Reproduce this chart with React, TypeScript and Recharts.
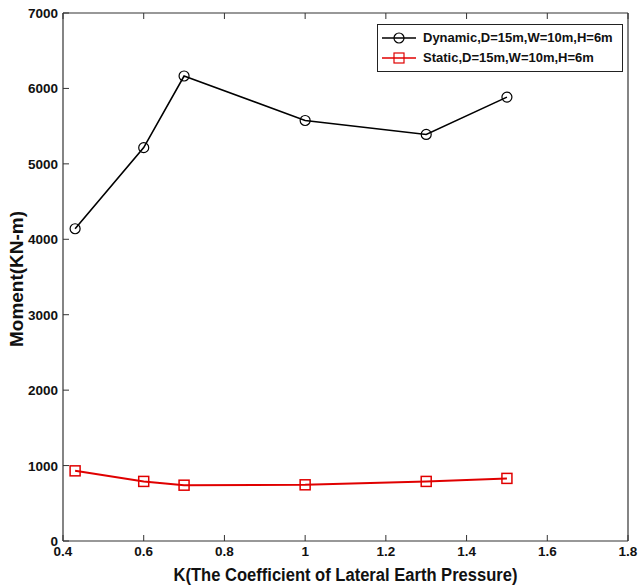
import React from 'react';
import { LineChart, Line, XAxis, YAxis, Label } from 'recharts';

// K values and moments (kN-m)
const kValues = [0.43, 0.6, 0.7, 1.0, 1.3, 1.5];
const dynamicMoment = [4140, 5215, 6165, 5575, 5390, 5885];
const staticMoment = [930, 790, 740, 745, 790, 830];

const xTicks = [0.4, 0.6, 0.8, 1.0, 1.2, 1.4, 1.6, 1.8];
const yTicks = [0, 1000, 2000, 3000, 4000, 5000, 6000, 7000];

const dynamicName = 'Dynamic,D=15m,W=10m,H=6m';
const staticName = 'Static,D=15m,W=10m,H=6m';
const xTitle = 'K(The Coefficient of Lateral Earth Pressure)';
const yTitle = 'Moment(KN-m)';

const data = kValues.map((k, i) => ({
  k,
  dynamic: dynamicMoment[i],
  static: staticMoment[i],
}));

const FONT = '"Liberation Sans", Arial, sans-serif';
const TICK_LEN = 6;

const BottomTick = ({ x, y, payload }: any) => (
  <g>
    <line x1={x} y1={y} x2={x} y2={y - TICK_LEN} stroke="#333" strokeWidth={1} />
    <text x={x} y={y + 15} textAnchor="middle" fontFamily={FONT} fontWeight="bold" fontSize={13.5} fill="#111">
      {String(payload.value)}
    </text>
  </g>
);

const TopTick = ({ x, y }: any) => (
  <line x1={x} y1={y} x2={x} y2={y + TICK_LEN} stroke="#333" strokeWidth={1} />
);

const LeftTick = ({ x, y, payload }: any) => (
  <g>
    <line x1={x} y1={y} x2={x + TICK_LEN} y2={y} stroke="#333" strokeWidth={1} />
    <text x={x - 5} y={y + 5} textAnchor="end" fontFamily={FONT} fontWeight="bold" fontSize={13.5} fill="#111">
      {String(payload.value)}
    </text>
  </g>
);

const RightTick = ({ x, y }: any) => (
  <line x1={x} y1={y} x2={x - TICK_LEN} y2={y} stroke="#333" strokeWidth={1} />
);

const XTitle = ({ viewBox }: any) => {
  const { x, y, width, height } = viewBox;
  return (
    <text
      x={x + width / 2}
      y={y + height - 5}
      textAnchor="middle"
      fontFamily={FONT}
      fontWeight="bold"
      fontSize={18}
      fill="#111"
      textLength={344}
      lengthAdjust="spacingAndGlyphs"
    >
      {xTitle}
    </text>
  );
};

const YTitle = ({ viewBox }: any) => {
  const { x, y, height } = viewBox;
  const cx = x + 11;
  const cy = y + height / 2 + 2;
  return (
    <text
      x={cx}
      y={cy}
      transform={`rotate(-90 ${cx} ${cy})`}
      textAnchor="middle"
      fontFamily={FONT}
      fontWeight="bold"
      fontSize={18}
      fill="#111"
      textLength={136}
      lengthAdjust="spacingAndGlyphs"
    >
      {yTitle}
    </text>
  );
};

const SquareDot = ({ cx, cy }: any) => {
  if (cx == null || cy == null) return null;
  return <rect x={cx - 5} y={cy - 5} width={10} height={10} fill="none" stroke="#e00000" strokeWidth={1.5} />;
};

const LegendBox = () => (
  <div
    style={{
      position: 'absolute',
      top: 24,
      left: 377,
      width: 240,
      border: '1px solid #222',
      background: '#fff',
      padding: '3px 0 3px 4px',
      fontFamily: FONT,
      fontWeight: 'bold',
      fontSize: 13,
      color: '#111',
      lineHeight: '20px',
    }}
  >
    <div style={{ display: 'flex', alignItems: 'center' }}>
      <svg width={36} height={14} style={{ marginRight: 5 }}>
        <line x1={0} y1={7} x2={34} y2={7} stroke="#000" strokeWidth={1.5} />
        <circle cx={17} cy={7} r={5} fill="none" stroke="#000" strokeWidth={1.2} />
      </svg>
      {dynamicName}
    </div>
    <div style={{ display: 'flex', alignItems: 'center' }}>
      <svg width={36} height={14} style={{ marginRight: 5 }}>
        <line x1={0} y1={7} x2={34} y2={7} stroke="#e00000" strokeWidth={1.5} />
        <rect x={12} y={2} width={10} height={10} fill="none" stroke="#e00000" strokeWidth={1.2} />
      </svg>
      {staticName}
    </div>
  </div>
);

export default function App() {
  return (
    <div style={{ position: 'relative', width: 641, height: 586, background: '#fff' }}>
      <style>{'body{margin:0;}'}</style>
      <LineChart
        width={641}
        height={586}
        data={data}
        margin={{ top: 12, right: 12, bottom: 0, left: 12 }}
      >
        <XAxis
          xAxisId="bottom"
          dataKey="k"
          type="number"
          domain={[0.4, 1.8]}
          ticks={xTicks}
          height={45}
          tickSize={0}
          tickMargin={0}
          tickLine={false}
          tick={<BottomTick />}
          axisLine={{ stroke: '#333', strokeWidth: 1.2 }}
        >
          <Label content={<XTitle />} />
        </XAxis>
        <XAxis
          xAxisId="top"
          dataKey="k"
          type="number"
          orientation="top"
          domain={[0.4, 1.8]}
          ticks={xTicks}
          height={1}
          tickSize={0}
          tickMargin={0}
          tickLine={false}
          tick={<TopTick />}
          axisLine={{ stroke: '#333', strokeWidth: 1.2 }}
        />
        <YAxis
          yAxisId="left"
          type="number"
          domain={[0, 7000]}
          ticks={yTicks}
          width={51}
          tickSize={0}
          tickMargin={0}
          tickLine={false}
          tick={<LeftTick />}
          axisLine={{ stroke: '#333', strokeWidth: 1.2 }}
        >
          <Label content={<YTitle />} />
        </YAxis>
        <YAxis
          yAxisId="right"
          orientation="right"
          type="number"
          domain={[0, 7000]}
          ticks={yTicks}
          width={1}
          tickSize={0}
          tickMargin={0}
          tickLine={false}
          tick={<RightTick />}
          axisLine={{ stroke: '#333', strokeWidth: 1.2 }}
        />
        <Line
          xAxisId="bottom"
          yAxisId="left"
          dataKey="dynamic"
          name={dynamicName}
          stroke="#000"
          strokeWidth={1.6}
          dot={{ r: 5, fill: 'none', stroke: '#000', strokeWidth: 1.2 }}
          activeDot={false}
          isAnimationActive={false}
        />
        <Line
          xAxisId="bottom"
          yAxisId="left"
          dataKey="static"
          name={staticName}
          stroke="#e00000"
          strokeWidth={2}
          dot={<SquareDot />}
          activeDot={false}
          isAnimationActive={false}
        />
      </LineChart>
      <LegendBox />
    </div>
  );
}
